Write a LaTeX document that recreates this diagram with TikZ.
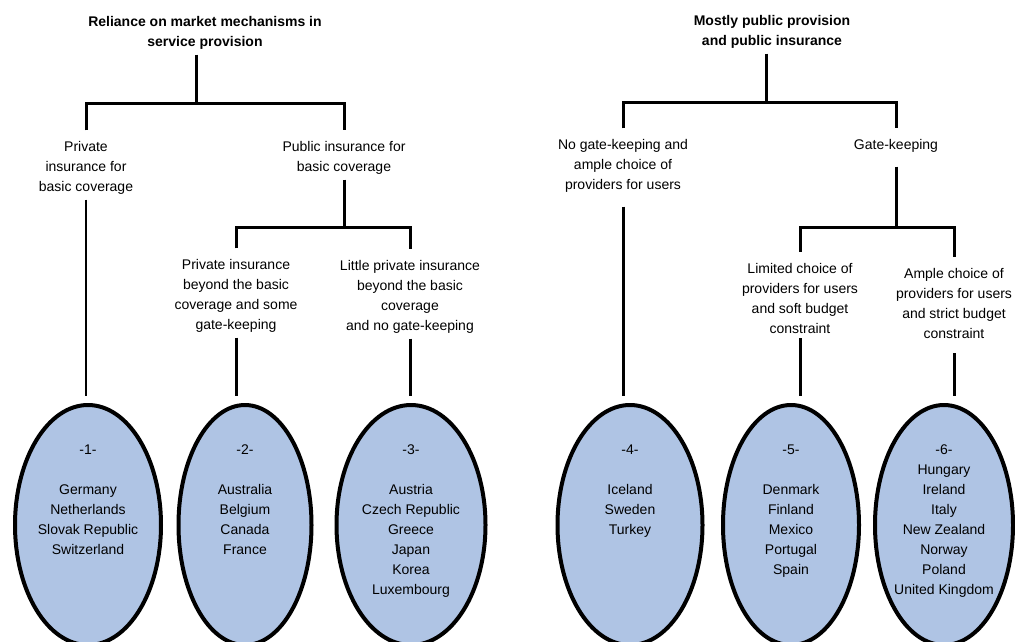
\documentclass[tikz,border=0pt]{standalone}
\usepackage{fontspec}
\setmainfont{Liberation Sans}
\usetikzlibrary{shapes.geometric}

\definecolor{ovalblue}{RGB}{175,196,228}

\tikzset{
  txt/.style={font=\fontsize{14}{20}\selectfont, align=center, inner sep=5pt},
  ttl/.style={txt, font=\fontsize{14}{20}\selectfont\bfseries},
  bar/.style={line width=3pt},
  thinbar/.style={line width=1.6pt},
  oval/.style={ellipse, draw, line width=4pt, fill=ovalblue, minimum height=240pt, outer sep=9pt},
  lst/.style={font=\fontsize{14}{20}\selectfont, align=center, inner sep=0pt, anchor=north}
}

\begin{document}
\begin{tikzpicture}[x=1pt, y=-1pt]
        \useasboundingbox (0, 0) rectangle (1015, 641);

        % left tree
        \node[ttl] (rootL) at (205, 33) {Reliance on market mechanisms in\\service provision};
        \node[txt] (privIns) at (86, 168) {Private\\insurance for\\basic coverage};
        \node[txt] (pubIns) at (344, 158) {Public insurance for\\basic coverage};
        \node[txt] (priv2) at (236, 296) {Private insurance\\beyond the basic\\coverage and some\\gate-keeping};
        \node[txt] (little3) at (410, 297) {Little private insurance\\beyond the basic\\coverage\\and no gate-keeping};

        % right tree
        \node[ttl] (rootR) at (772, 32) {Mostly public provision\\and public insurance};
        \node[txt] (noGate) at (623, 166) {No gate-keeping and\\ample choice of\\providers for users};
        \node[txt] (gate) at (896, 146) {Gate-keeping};
        \node[txt] (limited) at (800, 298) {Limited choice of\\providers for users\\and soft budget\\constraint};
        \node[txt] (ample) at (954, 303) {Ample choice of\\providers for users\\and strict budget\\constraint};

        % groups
        \node[oval, minimum width=146pt] (e1) at (88, 525) {};
        \node[oval, minimum width=133pt] (e2) at (245, 525) {};
        \node[oval, minimum width=149pt] (e3) at (411, 525) {};
        \node[oval, minimum width=145pt] (e4) at (630, 525) {};
        \node[oval, minimum width=136pt] (e5) at (791, 525) {};
        \node[oval, minimum width=138pt] (e6) at (944, 525) {};

        \node[lst] (l1) at ([yshift=-49pt]e1.north) {-1-\\[20pt]Germany\\Netherlands\\Slovak Republic\\Switzerland};
        \node[lst] (l2) at ([yshift=-49pt]e2.north) {-2-\\[20pt]Australia\\Belgium\\Canada\\France};
        \node[lst] (l3) at ([yshift=-49pt]e3.north) {-3-\\[20pt]Austria\\Czech Republic\\Greece\\Japan\\Korea\\Luxembourg};
        \node[lst] (l4) at ([yshift=-49pt]e4.north) {-4-\\[20pt]Iceland\\Sweden\\Turkey};
        \node[lst] (l5) at ([yshift=-49pt]e5.north) {-5-\\[20pt]Denmark\\Finland\\Mexico\\Portugal\\Spain};
        \node[lst] (l6) at ([yshift=-49pt]e6.north) {-6-\\Hungary\\Ireland\\Italy\\New Zealand\\Norway\\Poland\\United Kingdom};

        % junctions
        \coordinate (jL) at (196, 103);
        \coordinate (jL2) at (344, 227);
        \coordinate (jR) at (766, 102);
        \coordinate (jR2) at (896, 227);

        \draw[bar] (rootL.south -| jL) -- (jL);
        \draw[bar, shorten <=6pt, shorten >=6pt] (privIns.north) |- (jL) -| (pubIns.north);
        \draw[thinbar] (privIns.south) -- (privIns.south |- e1.north);
        \draw[bar] (pubIns.south) -- (jL2);
        \draw[bar, shorten <=6pt, shorten >=6pt] (priv2.north) |- (jL2) -| (little3.north);
        \draw[bar] (priv2.south) -- (priv2.south |- e2.north);
        \draw[bar] (little3.south) -- (little3.south |- e3.north);

        \draw[bar] (rootR.south -| jR) -- (jR);
        \draw[bar, shorten <=6pt, shorten >=6pt] (noGate.north) |- (jR) -| (gate.north);
        \draw[bar, shorten <=9pt] (noGate.south) -- (noGate.south |- e4.north);
        \draw[bar, shorten <=9pt] (gate.south) -- (jR2);
        \draw[bar, shorten <=6pt, shorten >=6pt] (limited.north) |- (jR2) -| (ample.north);
        \draw[bar] (limited.south) -- (limited.south |- e5.north);
        \draw[bar, shorten <=10pt] (ample.south) -- (ample.south |- e6.north);
\end{tikzpicture}
\end{document}
